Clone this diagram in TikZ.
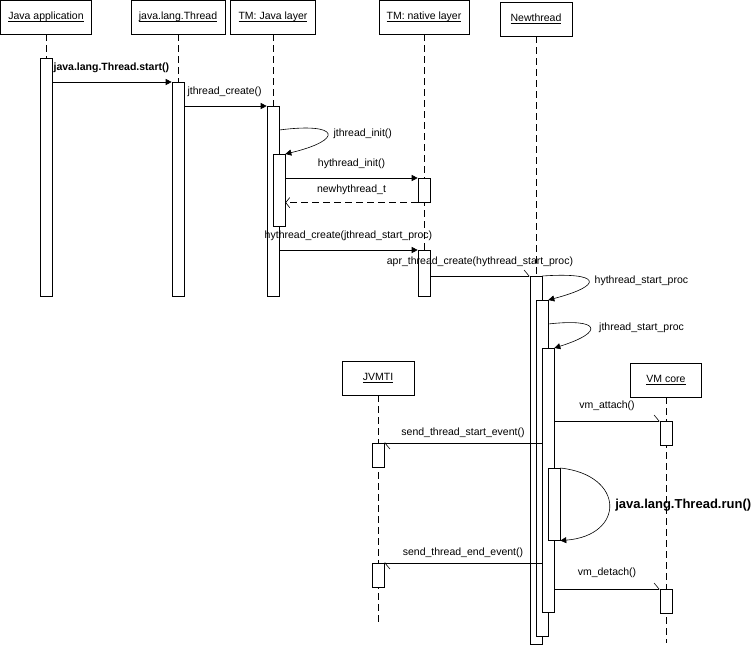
\documentclass[tikz,border=0pt]{standalone}
\usepackage{fontspec}
\setmainfont{Liberation Sans}
\usetikzlibrary{arrows.meta,positioning,calc,backgrounds}

% underlined object name
\newcommand{\undl}[1]{\setbox0\hbox{#1}\rlap{\rule[-2pt]{\wd0}{0.6pt}}\box0}

\begin{document}
\begin{tikzpicture}[
    x=1pt, y=-1pt, line width=0.6pt,
    txt/.style={font=\fontsize{10.5}{12}\selectfont},
    boldtxt/.style={font=\fontsize{10.5}{12}\selectfont\bfseries},
    hdr/.style={rectangle, draw, fill=white, minimum height=34pt, inner sep=1pt, txt},
    bar/.style={rectangle, draw, fill=white, minimum width=12pt, inner sep=0pt},
    lifeline/.style={dash pattern=on 7pt off 4pt},
    call/.style={-{Triangle[length=6pt,width=6pt]}},
    ret/.style={dash pattern=on 7pt off 4pt, -{Straight Barb[length=4pt,width=10pt]}},
    async/.style={-{Straight Barb[left,length=5pt,width=12pt]}},
    msg/.style={txt, inner sep=1pt, above=8pt}
  ]
    \useasboundingbox (0,0) rectangle (756,646);

    % participants
    \node[hdr, minimum width=91pt] (app) at (46,17) {\undl{Java application}};
    \node[hdr, minimum width=94pt] (thr) at (178,17) {\undl{java.lang.Thread}};
    \node[hdr, minimum width=85pt] (jl) at (273,17) {\undl{TM: Java layer}};
    \node[hdr, minimum width=90pt] (nl) at (424,17) {\undl{TM: native layer}};
    \node[hdr, minimum width=72pt] (nt) at (536,19) {\undl{Newthread}};
    \node[hdr, minimum width=72pt] (jvmti) at (378,378) {\undl{JVMTI}};
    \node[hdr, minimum width=71pt] (vmc) at (666,380) {\undl{VM core}};
    \coordinate (jvend) at (378,626);
    \coordinate (vmend) at (666,643);

    % activations
    \node[bar, minimum height=238pt, anchor=north] (appbar) at (46,58) {};
    \node[bar, minimum height=214pt, anchor=north] (thrbar) at (178,82) {};
    \node[bar, minimum height=190pt, anchor=north] (jlbar) at (273,106) {};
    \node[bar, minimum height=72pt, anchor=north] (jlbar2) at (279,154) {};
    \node[bar, minimum height=24pt, anchor=north] (nlbar) at (424,178) {};
    \node[bar, minimum height=46pt, anchor=north] (nlbar2) at (424,250) {};
    \node[bar, minimum height=368pt, anchor=north] (ntbar) at (536,276) {};
    \node[bar, minimum height=336pt, anchor=north] (ntbar2) at (542,300) {};
    \node[bar, minimum height=264pt, anchor=north] (ntbar3) at (548,348) {};
    \node[bar, minimum height=72pt, anchor=north] (runbar) at (554,468) {};
    \node[bar, minimum height=24pt, anchor=north] (jvbar) at (378,443) {};
    \node[bar, minimum height=24pt, anchor=north] (jvbar2) at (378,563) {};
    \node[bar, minimum height=24pt, anchor=north] (vmbar) at (666,421) {};
    \node[bar, minimum height=24pt, anchor=north] (vmbar2) at (666,589) {};

    \begin{scope}[on background layer]
      \foreach \a/\b in {app/appbar, thr/thrbar, jl/jlbar, nl/nlbar2, nt/ntbar, jvmti/jvend, vmc/vmend}
        \draw[lifeline] (\a) -- (\b);
    \end{scope}

    % messages
    \draw[call] (appbar.east |- thrbar.north) -- (thrbar.north west)
      node[pos=0, msg, boldtxt, anchor=south west] {java.lang.Thread.start()};
    \draw[call] (thrbar.east |- jlbar.north) -- (jlbar.north west)
      node[pos=0, msg, anchor=south west, xshift=2pt] {jthread\_create()};
    \draw[call] ($(jlbar.north east)+(0,24)$) .. controls +(61,-8) and +(59,-14) .. (jlbar2.north east)
      node[pos=0.5, right=5pt, txt, inner sep=1pt] {jthread\_init()};
    \draw[call] (jlbar2.east |- nlbar.north) -- (nlbar.north west)
      node[midway, msg] {hythread\_init()};
    \draw[ret] (nlbar.south west) -- (jlbar2.east |- nlbar.south)
      node[midway, msg, above=7pt] {newhythread\_t};
    \draw[call] (jlbar.east |- nlbar2.north) -- (nlbar2.north west)
      node[midway, msg] {hythread\_create(jthread\_start\_proc)};
    \draw[async] (nlbar2.east |- ntbar.north) -- (ntbar.north west)
      node[midway, msg] {apr\_thread\_create(hythread\_start\_proc)};
    \draw[call] (ntbar.north east) .. controls +(58,-4) and +(57,-15) .. (ntbar2.north east)
      node[pos=0.5, right=5pt, txt, inner sep=1pt] {hythread\_start\_proc};
    \draw[call] ($(ntbar2.north east)+(0,24)$) .. controls +(52,-6) and +(51,-16) .. (ntbar3.north east)
      node[pos=0.5, right=8pt, txt, inner sep=1pt] {jthread\_start\_proc};
    \draw[async] (ntbar3.east |- vmbar.north) -- (vmbar.north west)
      node[midway, msg, above=9pt] {vm\_attach()};
    \draw[async] (ntbar3.west |- jvbar.north) -- (jvbar.north east)
      node[midway, msg, above=4pt] {send\_thread\_start\_event()};
    \draw[call] (runbar.north east) .. controls +(65,7) and +(65,-5) .. (runbar.south east)
      node[pos=0.5, right=5pt, inner sep=1pt, font=\fontsize{13}{15}\selectfont\bfseries] {java.lang.Thread.run()};
    \draw[async] (ntbar3.west |- jvbar2.north) -- (jvbar2.north east)
      node[midway, msg, above=4pt] {send\_thread\_end\_event()};
    \draw[async] (ntbar3.east |- vmbar2.north) -- (vmbar2.north west)
      node[midway, msg, above=10pt] {vm\_detach()};
\end{tikzpicture}
\end{document}
